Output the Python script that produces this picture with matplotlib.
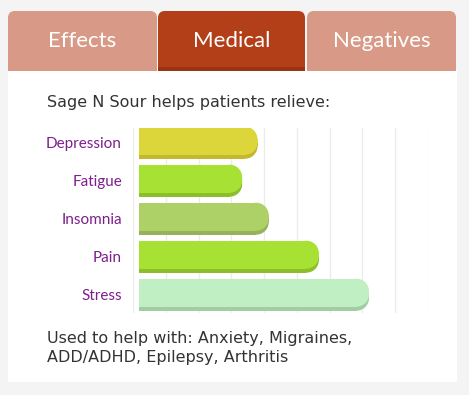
import matplotlib

matplotlib.use("Agg")
import matplotlib.pyplot as plt
from matplotlib.patches import Ellipse, FancyBboxPatch, Rectangle

# data
strain = "Sage N Sour"
tabs = ["Effects", "Medical", "Negatives"]
active_tab = "Medical"
conditions = ["Depression", "Fatigue", "Insomnia", "Pain", "Stress"]
scores = [3.8, 3.33, 4.14, 5.67, 7.2]
bar_colors = ["#ddd63a", "#a6e133", "#add166", "#a6e133", "#c0efc3"]
shadow_colors = ["#c4b82f", "#8cbe29", "#97b25a", "#8cbe29", "#a2cda4"]
also_used = ["Anxiety", "Migraines", "ADD/ADHD", "Epilepsy", "Arthritis"]

W, H = 469, 395
fig = plt.figure(figsize=(W / 100, H / 100), dpi=100)
fig.patch.set_facecolor("#f4f4f4")

# background / frame axes in pixel coords
bg = fig.add_axes([0, 0, 1, 1])
bg.set_xlim(0, W)
bg.set_ylim(H, 0)
bg.axis("off")

bg.add_patch(Rectangle((8, 70), 449, 312, facecolor="white", edgecolor="none"))

tab_x = [(8, 157), (158, 305), (307, 456)]
for (x0, x1), name in zip(tab_x, tabs):
    active = name == active_tab
    col = "#b33f19" if active else "#d89a86"
    bg.add_patch(FancyBboxPatch((x0, 11), x1 - x0, 70, boxstyle="round,pad=0,rounding_size=7",
                                facecolor=col, edgecolor="none"))
    if active:
        bg.add_patch(Rectangle((x0, 66.5), x1 - x0, 4, facecolor="#9b3212", edgecolor="none"))
    bg.text((x0 + x1) / 2, 41, name, color="white", fontsize=16, family="Lato",
            ha="center", va="center")
# cover tab bottoms with the white panel
bg.add_patch(Rectangle((8, 70.5), 449, 30, facecolor="white", edgecolor="none"))

bg.text(47, 102, f"{strain} helps patients relieve:", fontsize=11.5, color="#333333",
        family="DejaVu Sans", va="center", ha="left")
bg.text(47, 348, "Used to help with: " + ", ".join(also_used[:2]) + ",\n" + ", ".join(also_used[2:]),
        fontsize=11.5, color="#333333", family="DejaVu Sans", va="center", ha="left",
        linespacing=1.28)

# bar chart
ax = fig.add_axes([133 / W, 1 - 313 / H, 295 / W, 185.3 / H])
ax.set_xlim(0, 9)
ax.set_ylim(4.482, -0.395)
ax.set_facecolor("none")
for s in ax.spines.values():
    s.set_visible(False)
ax.set_xticks(range(10))
ax.xaxis.grid(True, color="#ececec", linewidth=1)
ax.tick_params(axis="x", length=0, labelbottom=False)
ax.set_yticks(range(len(conditions)))
ax.set_yticklabels(conditions, color="#7e1f8d", family="Lato", fontsize=11)
ax.tick_params(axis="y", length=0, pad=8)
ax.set_axisbelow(True)

left = 0.18
body_h = 28 / 38
shadow_off = 4 / 38
rx = 12.5 / 32.8
ry = 12.5 / 38
for i, (v, c, sc) in enumerate(zip(scores, bar_colors, shadow_colors)):
    top = i - 16 / 38
    for dy, col in [(shadow_off, sc), (0, c)]:
        y0 = top + dy
        ax.barh(y0 + body_h / 2, v - left - rx, height=body_h, left=left, color=col)
        ax.barh(y0 + body_h / 2, rx, height=body_h - 2 * ry, left=v - rx, color=col)
        for yc in (y0 + ry, y0 + body_h - ry):
            ax.add_patch(Ellipse((v - rx, yc), 2 * rx, 2 * ry, facecolor=col, edgecolor="none"))

fig.savefig("out.png", dpi=100, facecolor=fig.get_facecolor())
